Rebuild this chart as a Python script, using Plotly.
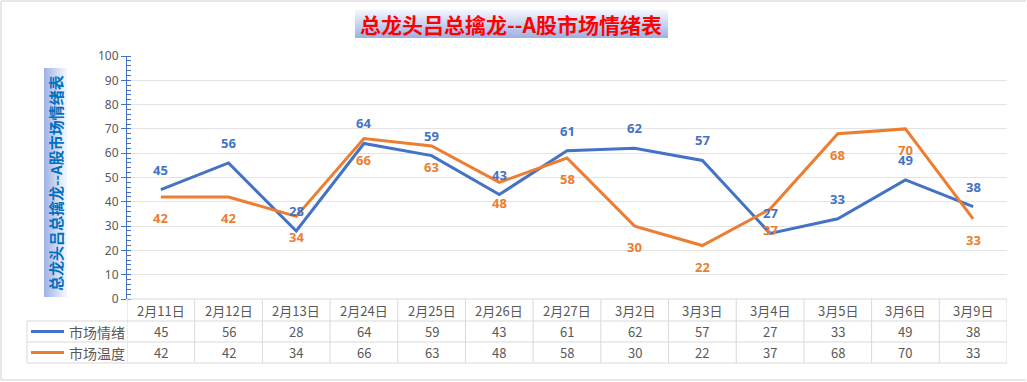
import plotly.graph_objects as go

categories = ["2月11日", "2月12日", "2月13日", "2月24日", "2月25日", "2月26日", "2月27日",
              "3月2日", "3月3日", "3月4日", "3月5日", "3月6日", "3月9日"]
mood = [45, 56, 28, 64, 59, 43, 61, 62, 57, 27, 33, 49, 38]
temp = [42, 42, 34, 66, 63, 48, 58, 30, 22, 37, 68, 70, 33]
series_names = ["市场情绪", "市场温度"]
title_text = "总龙头吕总擒龙--A股市场情绪表"

BLUE = "#4472C4"
ORANGE = "#ED7D31"
GRID = "#D9D9D9"
TXT = "#595959"
CJK = "Noto Sans CJK SC"

W, H = 1027, 382
L, R, T, B = 127, 1007, 56, 299


def px(x):
    return (x - L) / (R - L)


def py(y):
    return (B - y) / (B - T)


idx = list(range(len(categories)))
fig = go.Figure()
fig.add_trace(go.Scatter(x=idx, y=mood, mode="lines", name=series_names[0],
                         line=dict(color=BLUE, width=3), hoverinfo="skip"))
fig.add_trace(go.Scatter(x=idx, y=temp, mode="lines", name=series_names[1],
                         line=dict(color=ORANGE, width=3), hoverinfo="skip"))

shapes = []
annotations = []

# outer border (left, top, bottom)
for (x0, y0, x1, y1) in [(1, 1, 1, 380), (1, 1, 1026, 1), (1, 380, 1026, 380)]:
    shapes.append(dict(type="line", xref="paper", yref="paper",
                       x0=px(x0), y0=py(y0), x1=px(x1), y1=py(y1),
                       line=dict(color="#D0D0D0", width=1), layer="below"))


def lerp(c1, c2, t):
    a = [int(c1[i:i + 2], 16) for i in (1, 3, 5)]
    b = [int(c2[i:i + 2], 16) for i in (1, 3, 5)]
    return "#%02x%02x%02x" % tuple(round(a[k] + (b[k] - a[k]) * t) for k in range(3))


LIGHT, DARK = "#F6F7FD", "#9DB1E3"
# title gradient box (vertical gradient)
tx0, tx1, ty0, ty1 = 355, 668, 10, 38
n = 14
for i in range(n):
    ya = ty0 + (ty1 - ty0) * i / n
    yb = ty0 + (ty1 - ty0) * (i + 1) / n
    shapes.append(dict(type="rect", xref="paper", yref="paper",
                       x0=px(tx0), x1=px(tx1), y0=py(yb), y1=py(ya) + 0.001,
                       fillcolor=lerp(LIGHT, DARK, (i + 0.5) / n), line=dict(width=0), layer="below"))
annotations.append(dict(text="<b>" + title_text + "</b>", xref="paper", yref="paper",
                        x=px(511), y=py(24), xanchor="center", yanchor="middle", showarrow=False,
                        font=dict(family=CJK, size=21, color="#FF0000")))

# y-axis title gradient box (horizontal gradient)
bx0, bx1, by0, by1 = 44, 66, 68, 297
n = 10
for i in range(n):
    xa = bx0 + (bx1 - bx0) * i / n
    xb = bx0 + (bx1 - bx0) * (i + 1) / n
    shapes.append(dict(type="rect", xref="paper", yref="paper",
                       x0=px(xa), x1=px(xb) + 0.001, y0=py(by1), y1=py(by0),
                       fillcolor=lerp(DARK, LIGHT, (i + 0.5) / n), line=dict(width=0), layer="below"))
annotations.append(dict(text="<b>" + title_text + "</b>", xref="paper", yref="paper",
                        x=px(55), y=py(183), xanchor="center", yanchor="middle",
                        showarrow=False, textangle=-90,
                        font=dict(family=CJK, size=15, color="#0070C0")))

# data labels
for i in idx:
    annotations.append(dict(x=i, y=mood[i], xref="x", yref="y", text="<b>%d</b>" % mood[i],
                            showarrow=False, yshift=20, yanchor="middle",
                            font=dict(family="Noto Sans", size=13, color=BLUE)))
    annotations.append(dict(x=i, y=temp[i], xref="x", yref="y", text="<b>%d</b>" % temp[i],
                            showarrow=False, yshift=-21, yanchor="middle",
                            font=dict(family="Noto Sans", size=13, color=ORANGE)))

# data table
row_lines = [299, 321, 342, 363]
row_centers = [310, 331.5, 352.5]
n_cat = len(categories)
for k, yy in enumerate(row_lines):
    if k == 0:
        shapes.append(dict(type="line", xref="x", yref="paper", x0=-0.5, x1=n_cat - 0.5,
                           y0=py(yy), y1=py(yy), line=dict(color=GRID, width=1)))
    else:
        shapes.append(dict(type="line", xref="paper", yref="paper", x0=px(27), x1=1,
                           y0=py(yy), y1=py(yy), line=dict(color=GRID, width=1)))
for i in range(n_cat + 1):
    shapes.append(dict(type="line", xref="x", yref="paper", x0=i - 0.5, x1=i - 0.5,
                       y0=py(row_lines[0]), y1=py(row_lines[-1]), line=dict(color=GRID, width=1)))
shapes.append(dict(type="line", xref="paper", yref="paper", x0=px(27), x1=px(27),
                   y0=py(row_lines[1]), y1=py(row_lines[-1]), line=dict(color=GRID, width=1)))

cell_font = dict(family=CJK, size=13, color=TXT)
for i, c in enumerate(categories):
    for text, yc in [(c, row_centers[0]), (str(mood[i]), row_centers[1]), (str(temp[i]), row_centers[2])]:
        annotations.append(dict(x=i, y=py(yc), xref="x", yref="paper", text=text,
                                xanchor="center", yanchor="middle",
                                showarrow=False, font=cell_font))

for name, color, yc in [(series_names[0], BLUE, row_centers[1]), (series_names[1], ORANGE, row_centers[2])]:
    shapes.append(dict(type="line", xref="paper", yref="paper", x0=px(31), x1=px(64),
                       y0=py(yc), y1=py(yc), line=dict(color=color, width=3)))
    annotations.append(dict(x=px(67), y=py(yc), xref="paper", yref="paper", text=name,
                            xanchor="left", yanchor="middle", showarrow=False,
                            font=dict(family=CJK, size=14, color=TXT)))

fig.update_layout(
    width=W, height=H,
    margin=dict(l=L, r=W - R, t=T, b=H - B, pad=0),
    paper_bgcolor="white", plot_bgcolor="white",
    showlegend=False,
    shapes=shapes, annotations=annotations,
    xaxis=dict(range=[-0.5, n_cat - 0.5], showticklabels=False, showgrid=False,
               zeroline=False, showline=False, ticks="", fixedrange=True),
    yaxis=dict(range=[0, 100], dtick=10, showgrid=True, gridcolor="#E3E3E3", gridwidth=1,
               zeroline=False, showline=True, linecolor=BLUE, linewidth=1,
               ticks="outside", ticklen=5, tickcolor=BLUE, automargin=False,
               tickfont=dict(family="Noto Sans", size=12, color=TXT),
               minor=dict(dtick=2, ticks="inside", ticklen=4, tickcolor=BLUE, showgrid=False),
               fixedrange=True),
)

fig.write_html("out.html", config={"displayModeBar": False},
               post_script="document.body.style.margin='0';document.body.style.overflow='hidden';")
